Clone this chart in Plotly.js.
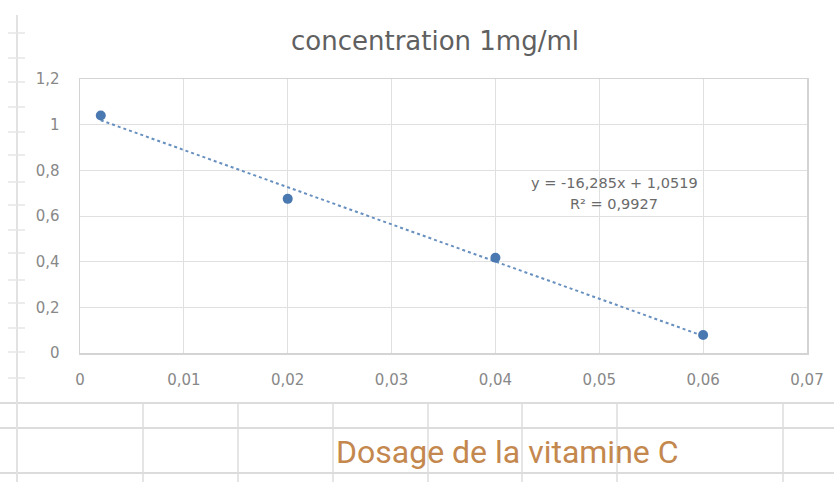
<!DOCTYPE html>
<html>
<head>
<meta charset="utf-8">
<script src="https://cdn.plot.ly/plotly-3.0.1.min.js"></script>
<style>html,body{margin:0;padding:0;background:#fff;}#chart{width:834px;height:482px;}</style>
</head>
<body>
<div id="chart"></div>
<script>
// ---- data ----
const concentrations = [0.002, 0.02, 0.04, 0.06];
const absorbances = [1.04, 0.675, 0.417, 0.079];
const trendSlope = -16.285;
const trendIntercept = 1.0519;
const rSquared = 0.9927;
const chartTitle = "concentration 1mg/ml";
const sheetTitle = "Dosage de la vitamine C";

// ---- geometry helpers (page pixels -> paper coords) ----
const W = 834, H = 482;
const M = {l: 80, r: 27, t: 79, b: 129};
const PW = W - M.l - M.r, PH = H - M.t - M.b;
const px = x => (x - M.l) / PW;
const py = y => (H - M.b - y) / PH;

const fmt = (v, d) => v.toFixed(d).replace('.', ',');

const xMin = Math.min(...concentrations), xMax = Math.max(...concentrations);
const trendX = [xMin, xMax];
const trendY = trendX.map(x => trendSlope * x + trendIntercept);

const points = {
  x: concentrations, y: absorbances, type: 'scatter', mode: 'markers',
  marker: {color: '#4a78b0', size: 10}, cliponaxis: false, hoverinfo: 'x+y'
};
const trend = {
  x: trendX, y: trendY, type: 'scatter', mode: 'lines',
  line: {color: '#6790bf', width: 2, dash: 'dot'}, hoverinfo: 'skip'
};

// spreadsheet cell lines around the chart (photo background)
const lineCol = '#dcdcdc';
const shapes = [];
[403, 428, 473].forEach(y => shapes.push({type: 'line', xref: 'paper', yref: 'paper',
  x0: px(0), x1: px(W), y0: py(y), y1: py(y), line: {color: lineCol, width: 2}, layer: 'below'}));
[143, 238, 333, 428, 522, 617, 783].forEach(x => shapes.push({type: 'line', xref: 'paper', yref: 'paper',
  x0: px(x), x1: px(x), y0: py(403), y1: py(H), line: {color: lineCol, width: 1.5}, layer: 'below'}));
shapes.push({type: 'line', xref: 'paper', yref: 'paper', x0: px(17), x1: px(17), y0: py(15), y1: py(H),
  line: {color: '#e2e2e2', width: 2}, layer: 'below'});
[33, 58, 82, 107, 132, 155, 182, 205, 230, 253, 280, 303, 328, 352, 378].forEach(y => shapes.push({
  type: 'line', xref: 'paper', yref: 'paper', x0: px(8), x1: px(25), y0: py(y), y1: py(y),
  line: {color: '#e6e6e6', width: 1.5}, layer: 'below'}));

const tickFont = {family: 'DejaVu Sans, sans-serif', size: 15, color: '#888888'};

const layout = {
  width: W, height: H,
  margin: M,
  paper_bgcolor: '#ffffff', plot_bgcolor: '#ffffff',
  separators: ', ',
  showlegend: false,
  title: {
    text: chartTitle, x: 435 / W, xanchor: 'center', y: 1 - 41 / H, yanchor: 'middle',
    font: {family: 'DejaVu Sans, sans-serif', size: 26, color: '#606060'}
  },
  xaxis: {
    range: [0, 0.07], dtick: 0.01, tick0: 0, showgrid: true, gridcolor: '#e0e0e0', gridwidth: 1,
    zeroline: false, showline: true, linecolor: '#d4d4d4', linewidth: 1.5, mirror: true,
    ticks: '', tickfont: tickFont, ticklabelstandoff: 12, fixedrange: true
  },
  yaxis: {
    range: [0, 1.2], dtick: 0.2, tick0: 0, showgrid: true, gridcolor: '#e0e0e0', gridwidth: 1,
    zeroline: false, showline: true, linecolor: '#d4d4d4', linewidth: 1.5, mirror: true,
    ticks: '', tickfont: tickFont, ticklabelstandoff: 16, fixedrange: true
  },
  shapes: shapes,
  annotations: [
    {xref: 'paper', yref: 'paper', x: px(614), y: py(183), xanchor: 'center', yanchor: 'middle',
     showarrow: false, text: 'y = ' + fmt(trendSlope, 3) + 'x + ' + fmt(trendIntercept, 4),
     font: {family: 'DejaVu Sans, sans-serif', size: 14.5, color: '#6a6a6a'}},
    {xref: 'paper', yref: 'paper', x: px(614), y: py(204), xanchor: 'center', yanchor: 'middle',
     showarrow: false, text: 'R² = ' + fmt(rSquared, 4),
     font: {family: 'DejaVu Sans, sans-serif', size: 14.5, color: '#6a6a6a'}},
    {xref: 'paper', yref: 'paper', x: px(507), y: py(452), xanchor: 'center', yanchor: 'middle',
     showarrow: false, text: sheetTitle,
     font: {family: 'Liberation Sans Narrow, Arial Narrow, Roboto, sans-serif', size: 32, color: '#c4884e'}}
  ]
};

Plotly.newPlot('chart', [trend, points], layout, {staticPlot: true, displayModeBar: false});
</script>
</body>
</html>
